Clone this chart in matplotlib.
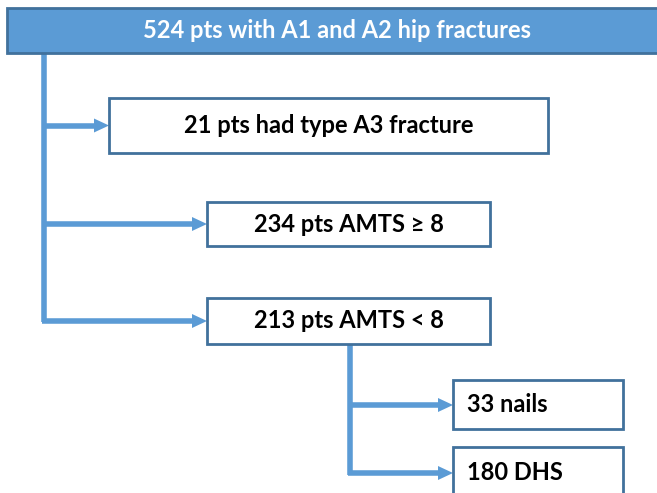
import matplotlib.pyplot as plt
from matplotlib.patches import Rectangle, FancyArrow

header = "524 pts with A1 and A2 hip fractures"
first_level = ["21 pts had type A3 fracture", "234 pts AMTS \u2265 8", "213 pts AMTS < 8"]
second_level = ["33 nails", "180 DHS"]

blue = "#5B9BD5"
edge = "#41719C"
line_w = 4

fig = plt.figure(figsize=(6.57, 4.93), dpi=100)
ax = fig.add_axes([0, 0, 1, 1])
ax.set_xlim(0, 657)
ax.set_ylim(493, 0)
ax.axis("off")

plt.rcParams["font.family"] = ["Lato", "DejaVu Sans"]


def box(x0, y0, x1, y1, fill="white"):
    ax.add_patch(Rectangle((x0, y0), x1 - x0, y1 - y0, facecolor=fill,
                           edgecolor=edge, lw=2, zorder=3))


def arrow(x0, x1, y):
    ax.plot([x0, x1 - 14], [y, y], color=blue, lw=line_w, solid_capstyle="butt", zorder=2)
    ax.add_patch(FancyArrow(x1 - 15, y, 15, 0, width=0, head_width=14,
                            head_length=15, length_includes_head=True,
                            color=blue, lw=0, zorder=2))


# header box
box(7, 8, 670, 53, fill=blue)
ax.text(337, 31, header, color="white", fontsize=17, fontweight="bold",
        ha="center", va="center", zorder=4)

# main trunk
ax.plot([44, 44], [53, 322], color=blue, lw=line_w, solid_capstyle="butt", zorder=2)

boxes1 = [(109, 98, 548, 153), (207, 202, 490, 246), (207, 298, 490, 344)]
for (x0, y0, x1, y1), label in zip(boxes1, first_level):
    box(x0, y0, x1, y1)
    ym = (y0 + y1) / 2
    arrow(42, x0, ym)
    ax.text((x0 + x1) / 2, ym, label, fontsize=17, fontweight="bold",
            ha="center", va="center", zorder=4)

# second trunk
ax.plot([350, 350], [344, 475], color=blue, lw=line_w, solid_capstyle="butt", zorder=2)

boxes2 = [(453, 380, 623, 429), (453, 447, 623, 520)]
arrow_y = [405, 473]
for (x0, y0, x1, y1), y, label in zip(boxes2, arrow_y, second_level):
    box(x0, y0, x1, y1)
    arrow(348, x0, y)
    ax.text(467, y, label, fontsize=17, fontweight="bold",
            ha="left", va="center", zorder=4)

fig.savefig("out.png", dpi=100)
